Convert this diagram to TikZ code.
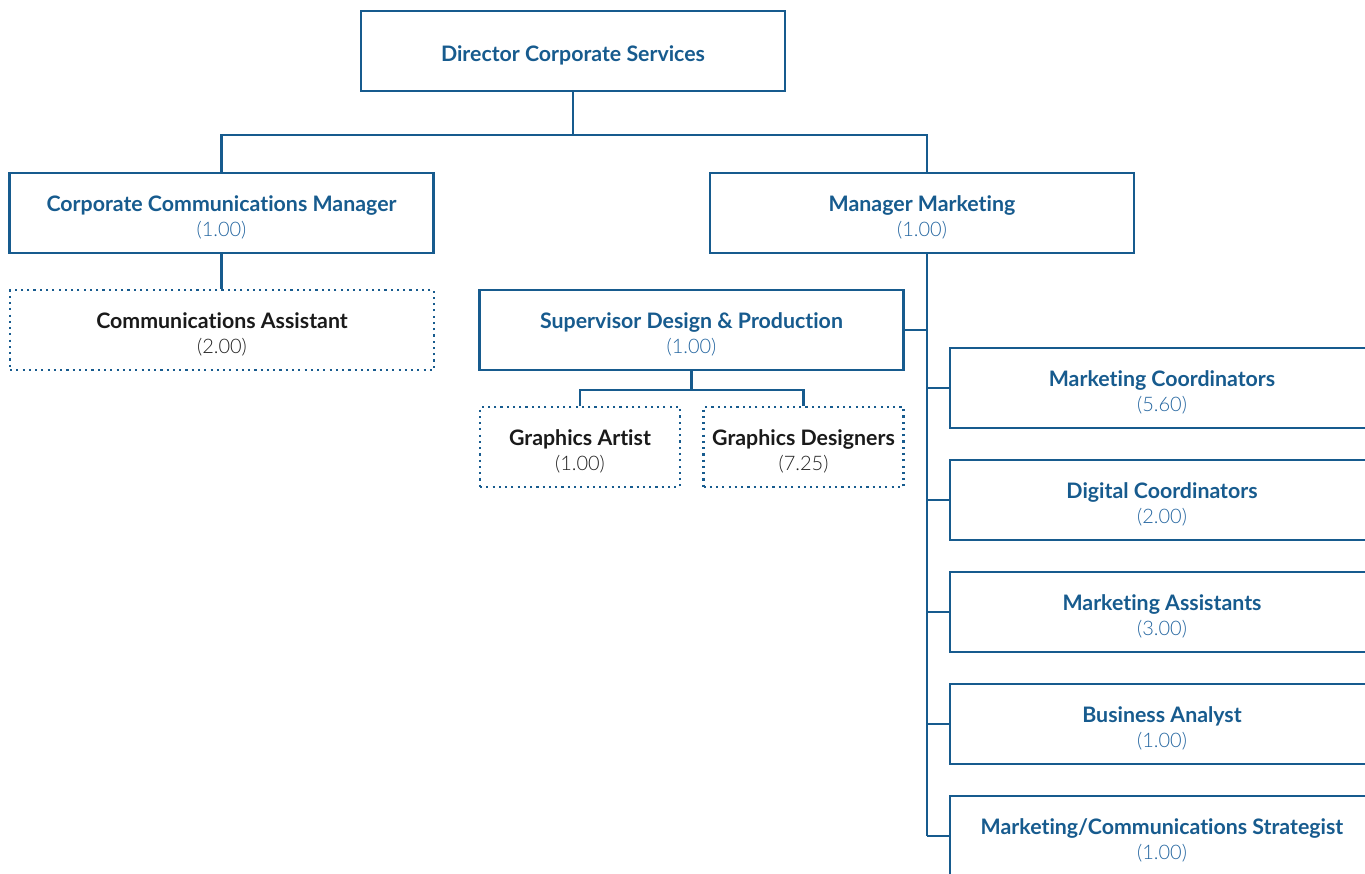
\documentclass[tikz,border=0pt]{standalone}
\usepackage{fontspec}
\setmainfont{Lato}[Ligatures={NoCommon,NoRare}]
\newfontfamily\thinfont{Lato Light}[Ligatures={NoCommon,NoRare}]
\usetikzlibrary{calc}

\definecolor{navy}{HTML}{175B8E}
\definecolor{numblue}{HTML}{2566A0}
\definecolor{ink}{HTML}{1A1A1A}
\definecolor{inknum}{HTML}{222222}

% text block of a box: bold title over a lighter FTE count;
% the first baseline sits just above the box centre
\newcommand\cardtext[4]{\raisebox{1.5pt}[0pt][0pt]{\begin{tabular}[t]{@{}c@{}}%
  {\bfseries\color{#1}#3}\\{\thinfont\fontsize{15}{18.75}\selectfont\color{#2}#4}\end{tabular}}}
% filled position: blue text
\newcommand\posn[2]{\cardtext{navy}{numblue}{#1}{#2}}
% vacant / contract position: black text
\newcommand\vposn[2]{\cardtext{ink}{inknum}{#1}{#2}}

\tikzset{
  role/.style={draw=navy, line width=1.8pt, minimum width=318pt, minimum height=60pt,
               align=center, inner sep=0pt, font=\fontsize{16}{18.75}\selectfont},
  vacant/.style={role, dash pattern=on 1.6pt off 3.1pt},
  narrow/.style={minimum width=150pt},
  link/.style={draw=navy, line width=1.8pt},
}

\begin{document}
\begin{tikzpicture}[x=0.75pt, y=-0.75pt]
  \useasboundingbox (0,0) rectangle (1365,874);
  \clip (0,0) rectangle (1365,874);

  % top level
  \node[role] (dir) at (573,51)
    {\raisebox{-8pt}[0pt][0pt]{\bfseries\color{navy}Director Corporate Services}};

  % second level
  \node[role] (ccm) at (221.5,213) {\posn{Corporate Communications Manager}{(1.00)}};
  \node[role] (mm)  at (922,213)   {\posn{Manager Marketing}{(1.00)}};

  % communications branch
  \node[vacant] (ca) at (222,330) {\vposn{Communications Assistant}{(2.00)}};

  % design & production branch
  \node[role] (sup) at (691.5,330) {\posn{Supervisor Design \& Production}{(1.00)}};
  \node[vacant, narrow] (ga) at (580,447)   {\vposn{Graphics Artist}{(1.00)}};
  \node[vacant, narrow] (gd) at (803.5,447) {\vposn{Graphics Designers}{(7.25)}};

  % marketing staff
  \node[role] (mc)  at (1162,388) {\posn{Marketing Coordinators}{(5.60)}};
  \node[role] (dc)  at (1162,500) {\posn{Digital Coordinators}{(2.00)}};
  \node[role] (ma)  at (1162,612) {\posn{Marketing Assistants}{(3.00)}};
  \node[role] (ba)  at (1162,724) {\posn{Business Analyst}{(1.00)}};
  \node[role] (mcs) at (1162,836) {\posn{Marketing/Communications Strategist}{(1.00)}};

  % junction points
  \coordinate (bus)    at (573,135);
  \coordinate (spine)  at (927,0);
  \coordinate (subbus) at (691.5,390);

  % connectors
  \draw[link] (dir.south) -- (bus);
  \draw[link] (ccm.north) |- (bus) -| (mm.north -| spine);
  \draw[link] (ccm.south) -- (ca.north -| ccm.south);
  \draw[link] (mm.south -| spine) -- (mcs.west -| spine);
  \draw[link] (sup.east) -- (sup.east -| spine);
  \draw[link] (sup.south) -- (subbus);
  \draw[link] (ga.north) |- (subbus) -| (gd.north);
  \foreach \n in {mc,dc,ma,ba,mcs}
    \draw[link] (\n.west -| spine) -- (\n.west);
\end{tikzpicture}
\end{document}
